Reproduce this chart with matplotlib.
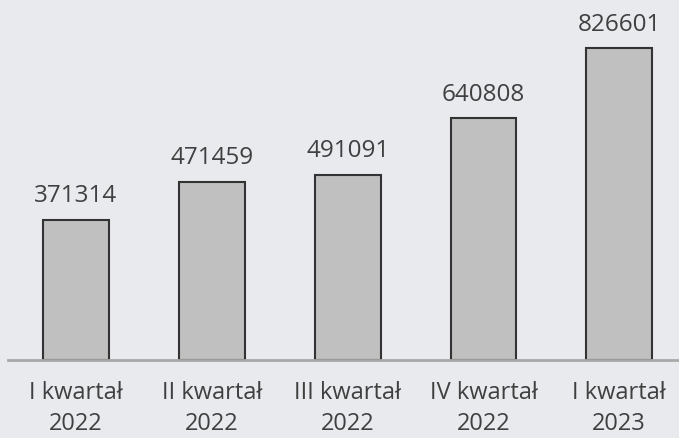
import matplotlib
matplotlib.use("Agg")
import matplotlib.pyplot as plt

categories = ["I kwartał\n2022", "II kwartał\n2022", "III kwartał\n2022", "IV kwartał\n2022", "I kwartał\n2023"]
values = [371314, 471459, 491091, 640808, 826601]

bg = "#e9eaee"
plt.rcParams['font.family'] = ['Open Sans', 'DejaVu Sans']

fig = plt.figure(figsize=(6.79, 4.38), dpi=100, facecolor=bg)
ax = fig.add_axes([0.0, 78/438, 1.0, 360/438], facecolor=bg)

x = list(range(len(values)))
ax.bar(x, values, width=0.485, color="#c0c0c0", edgecolor="#333333", linewidth=1.5, zorder=2)
for xi, v in zip(x, values):
    ax.annotate(f"{v}", (xi, v), xytext=(0, 8.5), textcoords="offset points",
                ha="center", va="bottom", fontsize=17.5, color="#404040")

ax.set_xlim(-0.56, 4.44)
ax.set_ylim(0, 954800)
for s in ["top", "right", "left"]:
    ax.spines[s].set_visible(False)
ax.spines["bottom"].set_color("#a8a8a8")
ax.spines["bottom"].set_linewidth(2)
ax.spines["bottom"].set_bounds(-0.5, 4.44)
ax.set_yticks([])
ax.set_xticks(x)
ax.set_xticklabels(categories, fontsize=17, color="#404040", linespacing=1.4)
ax.tick_params(axis="x", length=0, pad=15)

fig.savefig("out.png", dpi=100, facecolor=bg)
